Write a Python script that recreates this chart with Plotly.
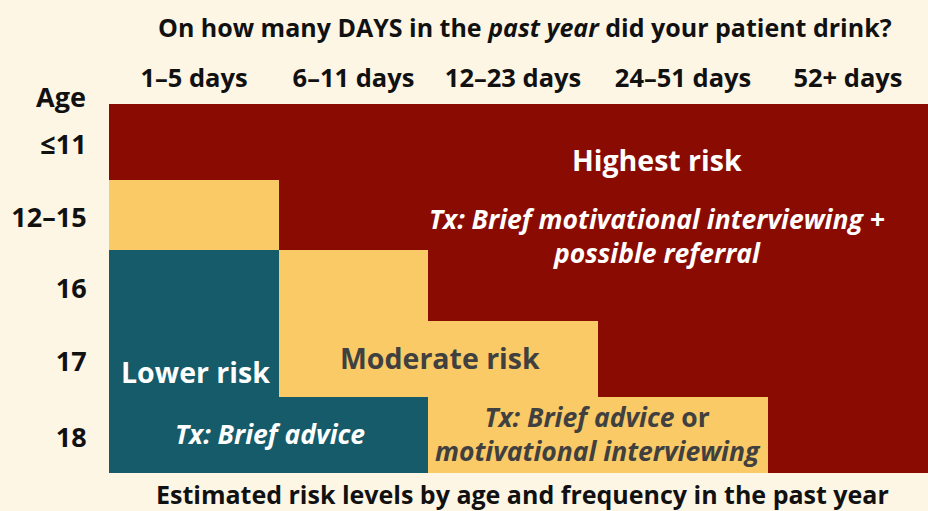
import plotly.graph_objects as go

# ---- data ----
frequency_labels = ["1–5 days", "6–11 days", "12–23 days", "24–51 days", "52+ days"]
age_labels = ["≤11", "12–15", "16", "17", "18"]
# risk level: 0 = lower, 1 = moderate, 2 = highest
risk_levels = [
    [2, 2, 2, 2, 2],
    [1, 2, 2, 2, 2],
    [0, 1, 2, 2, 2],
    [0, 1, 1, 2, 2],
    [0, 0, 1, 1, 2],
]

# ---- layout constants ----
col_widths = [170, 149, 170, 170, 160]
row_heights = [76, 70, 71, 76, 76]
col_edges = [0]
for w in col_widths:
    col_edges.append(col_edges[-1] + w)
row_edges = [0]
for h in row_heights:
    row_edges.append(row_edges[-1] + h)
col_centers = [(col_edges[i] + col_edges[i + 1]) / 2 for i in range(5)]
row_centers = [(row_edges[i] + row_edges[i + 1]) / 2 + 3 for i in range(5)]

RED = "#8A0B02"
YELLOW = "#F9CA66"
TEAL = "#165B69"
BG = "#FEF6E5"
GRAY = "#404040"
INK = "#111111"
FONT = "Open Sans"

fig = go.Figure(
    go.Heatmap(
        x=col_edges,
        y=row_edges,
        z=risk_levels,
        zmin=0,
        zmax=2,
        colorscale=[
            [0.0, TEAL], [0.333, TEAL],
            [0.333, YELLOW], [0.666, YELLOW],
            [0.666, RED], [1.0, RED],
        ],
        showscale=False,
        hoverinfo="skip",
    )
)

W, H = 928, 511
L, T, R, B = 109, 104, 0, 38

fig.update_layout(
    width=W,
    height=H,
    margin=dict(l=L, r=R, t=T, b=B),
    paper_bgcolor=BG,
    plot_bgcolor=BG,
    font=dict(family=FONT, color=INK),
    xaxis=dict(
        range=[0, col_edges[-1]],
        side="top",
        tickvals=col_centers,
        ticktext=[f"<b>{t}</b>" for t in frequency_labels],
        tickfont=dict(size=25.5, color=INK, family=FONT),
        showgrid=False,
        zeroline=False,
        ticks="outside",
        ticklen=6,
        tickcolor="rgba(0,0,0,0)",
        fixedrange=True,
    ),
    yaxis=dict(
        range=[row_edges[-1], 0],
        tickvals=row_centers,
        ticktext=[f"<b>{t}</b>" for t in age_labels],
        tickfont=dict(size=27, color=INK, family=FONT),
        showgrid=False,
        zeroline=False,
        ticks="outside",
        ticklen=16,
        tickcolor="rgba(0,0,0,0)",
        fixedrange=True,
    ),
)

def px_x(px):
    return px - L

def px_y(py):
    return py - T

annotations = [
    # headers
    dict(text="<b>On how many DAYS in the <i>past year</i> did your patient drink?</b>",
         xref="paper", yref="paper", x=(525 - L) / (W - L - R), y=1 + (T - 27) / (H - T - B),
         showarrow=False, font=dict(size=25, color=INK, family=FONT),
         xanchor="center", yanchor="middle"),
    dict(text="<b>Age</b>",
         xref="paper", yref="paper", x=(61 - L) / (W - L - R), y=1 + (T - 96) / (H - T - B),
         showarrow=False, font=dict(size=27, color=INK, family=FONT),
         xanchor="center", yanchor="middle"),
    dict(text="<b>Estimated risk levels by age and frequency in the past year</b>",
         xref="paper", yref="paper", x=(522 - L) / (W - L - R), y=-(494 - (H - B)) / (H - T - B),
         showarrow=False, font=dict(size=25, color=INK, family=FONT),
         xanchor="center", yanchor="middle"),
    # cell labels
    dict(text="<b>Highest risk</b>", x=px_x(657), y=px_y(160),
         showarrow=False, font=dict(size=28.5, color="white", family=FONT)),
    dict(text="<b><i>Tx: Brief motivational interviewing +<br>possible referral</i></b>",
         x=px_x(657), y=px_y(236),
         showarrow=False, font=dict(size=26.5, color="white", family=FONT)),
    dict(text="<b>Moderate risk</b>", x=px_x(440), y=px_y(358),
         showarrow=False, font=dict(size=28.5, color=GRAY, family=FONT)),
    dict(text="<b>Lower risk</b>", x=px_x(195), y=px_y(372),
         showarrow=False, font=dict(size=28.5, color="white", family=FONT)),
    dict(text="<b><i>Tx: Brief advice</i></b>", x=px_x(270), y=px_y(434),
         showarrow=False, font=dict(size=26.5, color="white", family=FONT)),
    dict(text="<b><i>Tx: Brief advice</i> or<br><i>motivational interviewing</i></b>",
         x=px_x(598), y=px_y(434),
         showarrow=False, font=dict(size=26.5, color=GRAY, family=FONT)),
]
for a in annotations:
    a.setdefault("xref", "x")
    a.setdefault("yref", "y")
fig.update_layout(annotations=annotations)

fig.write_html("out.html", config={"displayModeBar": False},
               post_script="document.body.style.margin='0';")
